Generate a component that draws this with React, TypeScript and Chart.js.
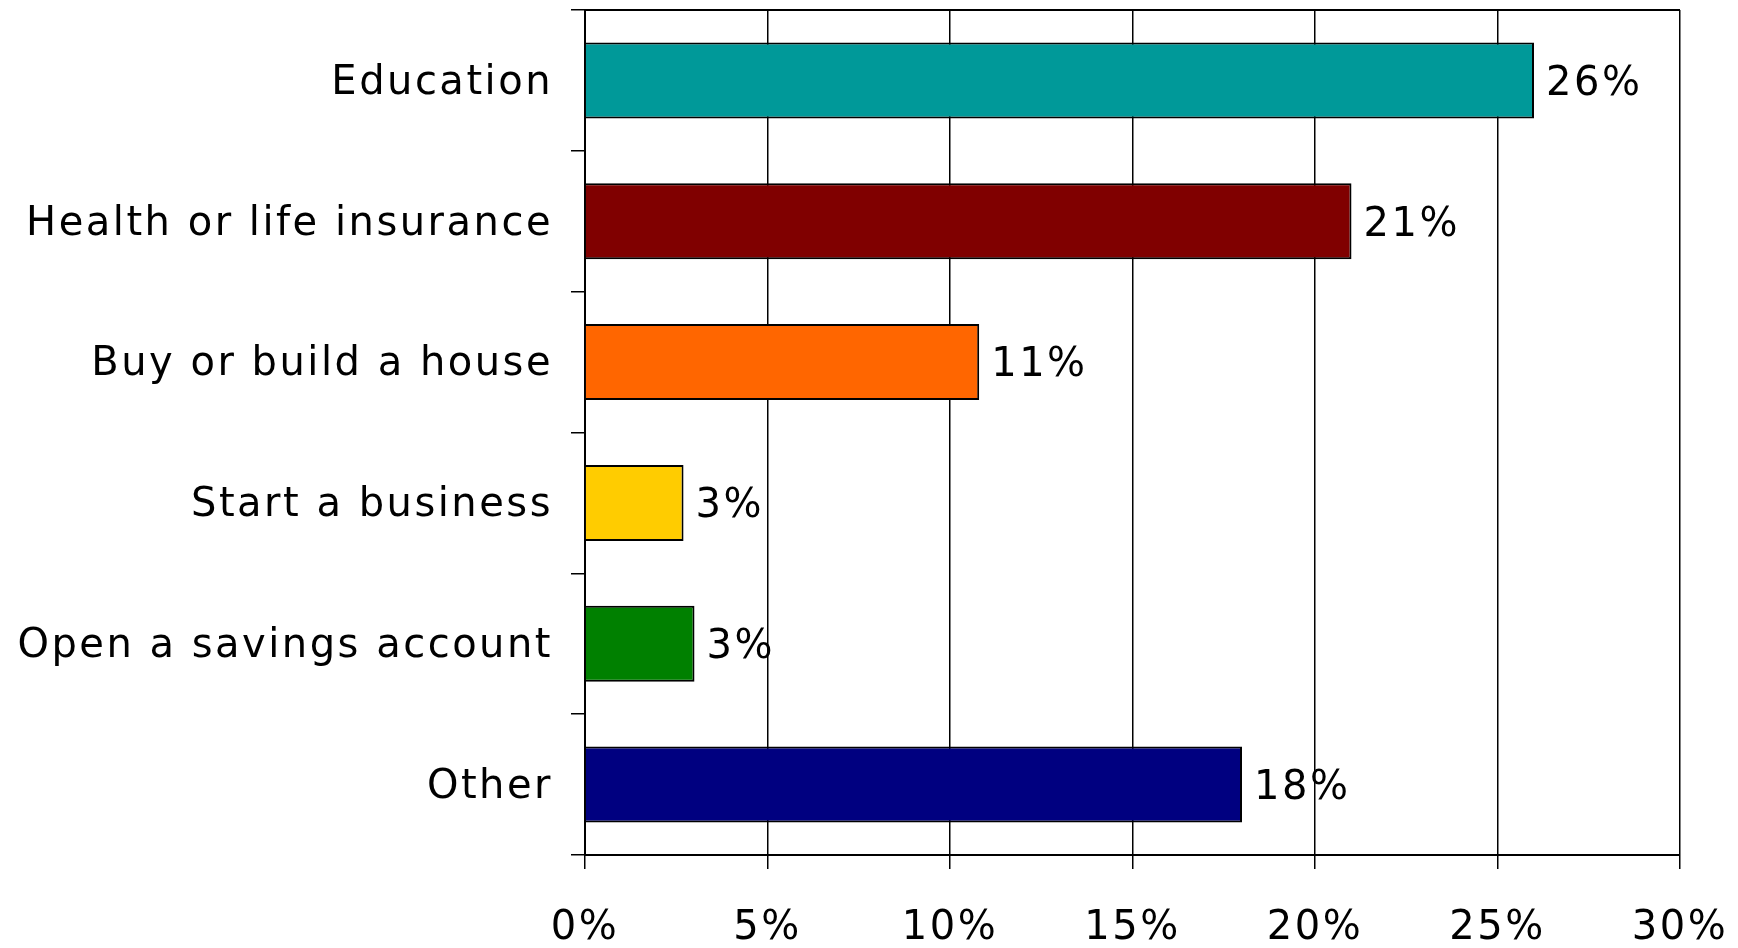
import React, { useEffect, useRef } from "react";
import { Chart, registerables } from "chart.js";

Chart.register(...registerables);

const categories = [
  "Education",
  "Health or life insurance",
  "Buy or build a house",
  "Start a business",
  "Open a savings account",
  "Other",
];
const values = [26.0, 21.0, 10.8, 2.7, 3.0, 18.0];
const valueLabels = ["26%", "21%", "11%", "3%", "3%", "18%"];
const barColors = ["#009999", "#800000", "#FF6600", "#FFCC00", "#008000", "#000080"];
const xMin = 0;
const xMax = 30;
const xStep = 5;

const FONT_FAMILY = '"DejaVu Sans", Verdana, sans-serif';
const FONT_SIZE = 40;
const LETTER_SPACING = "2.5px";

const spacingPlugin = {
  id: "spacing",
  beforeDraw(chart: any) {
    (chart.ctx as any).letterSpacing = LETTER_SPACING;
  },
};

const frameAndLabels = {
  id: "frameAndLabels",
  afterDatasetsDraw(chart: any) {
    const ctx = chart.ctx;
    const area = chart.chartArea;
    ctx.save();
    ctx.strokeStyle = "#000";
    ctx.lineWidth = 2;
    ctx.beginPath();
    ctx.moveTo(area.left, area.top);
    ctx.lineTo(area.right, area.top);
    ctx.stroke();

    const meta = chart.getDatasetMeta(0);
    ctx.fillStyle = "#000";
    ctx.font = `${FONT_SIZE}px ${FONT_FAMILY}`;
    (ctx as any).letterSpacing = LETTER_SPACING;
    ctx.textAlign = "left";
    ctx.textBaseline = "middle";
    meta.data.forEach((bar: any, i: number) => {
      ctx.fillText(valueLabels[i], bar.x + 12, bar.y + 4);
    });
    ctx.restore();
  },
};

export default function App() {
  const canvasRef = useRef<HTMLCanvasElement | null>(null);

  useEffect(() => {
    if (!canvasRef.current) return;
    const chart = new Chart(canvasRef.current, {
      type: "bar",
      data: {
        labels: categories,
        datasets: [
          {
            data: values,
            backgroundColor: barColors,
            borderColor: "#000",
            borderWidth: 2,
            barPercentage: 0.54,
            categoryPercentage: 1,
          },
        ],
      },
      options: {
        indexAxis: "y",
        responsive: false,
        animation: false,
        devicePixelRatio: 1,
        layout: { padding: { top: 10, right: 58, left: 0, bottom: 0 } },
        plugins: {
          legend: { display: false },
          tooltip: { enabled: false },
        },
        scales: {
          y: {
            type: "category",
            grid: {
              offset: true,
              drawOnChartArea: false,
              drawTicks: true,
              tickLength: 14,
              color: "#000",
              lineWidth: 1.5,
            },
            border: { display: true, color: "#000", width: 2 },
            ticks: {
              color: "#000",
              padding: 18,
              labelOffset: 3,
              font: { family: FONT_FAMILY, size: FONT_SIZE },
            },
            afterFit: (s: any) => {
              s.width = 585;
              s.paddingTop = 0;
              s.paddingBottom = 0;
            },
          },
          x: {
            type: "linear",
            min: xMin,
            max: xMax,
            grid: {
              color: "#000",
              lineWidth: 1.5,
              tickLength: 14,
              drawOnChartArea: true,
            },
            border: { display: true, color: "#000", width: 2 },
            ticks: {
              stepSize: xStep,
              color: "#000",
              padding: 36,
              font: { family: FONT_FAMILY, size: FONT_SIZE },
              callback: (v: any) => `${v}%`,
            },
            afterFit: (s: any) => {
              s.height = 93;
              s.paddingLeft = 0;
              s.paddingRight = 0;
            },
          },
        },
      },
      plugins: [spacingPlugin, frameAndLabels],
    });
    return () => chart.destroy();
  }, []);

  return (
    <div style={{ position: "fixed", left: 0, top: 0, width: 1738, height: 948, background: "#fff" }}>
      <canvas ref={canvasRef} width={1738} height={948} style={{ display: "block" }} />
    </div>
  );
}
